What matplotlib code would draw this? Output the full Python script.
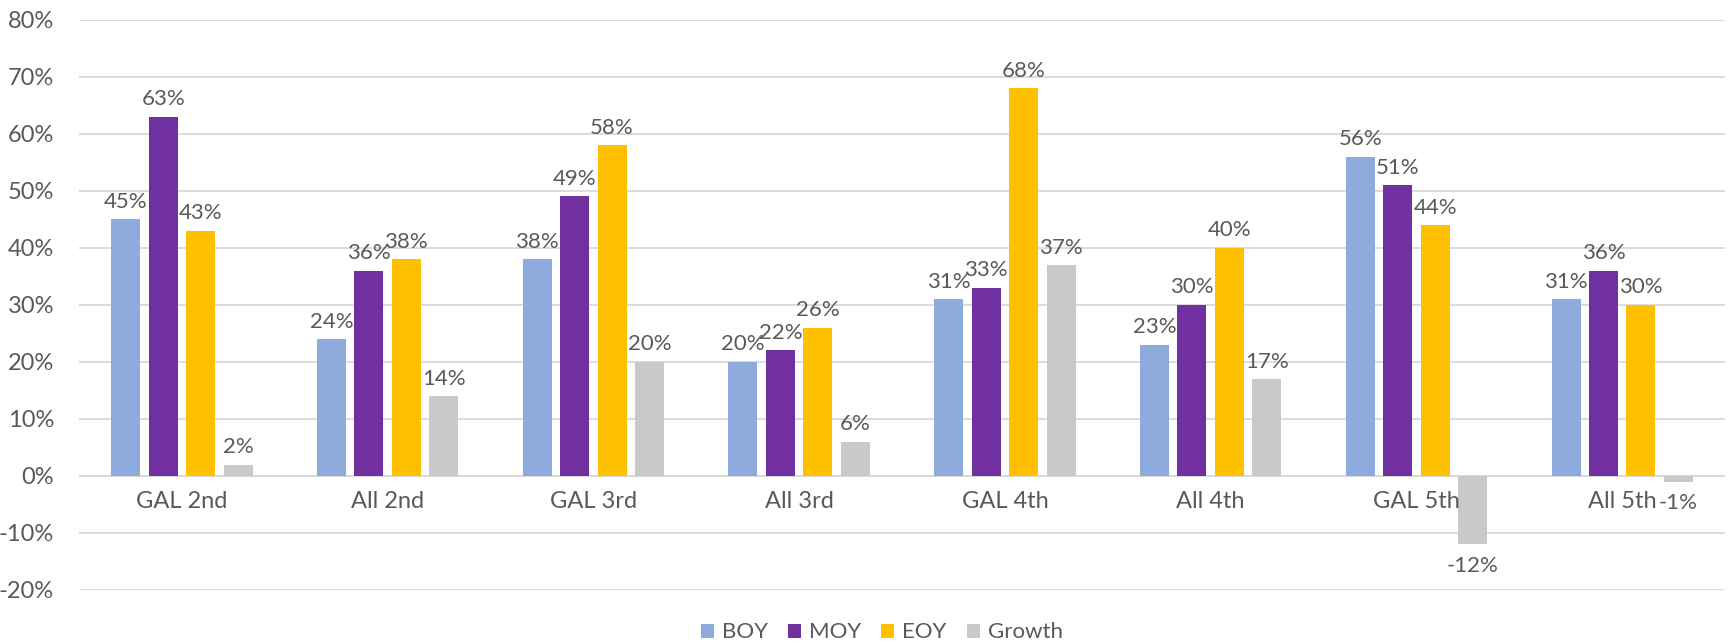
import matplotlib.pyplot as plt
import numpy as np
from matplotlib.ticker import FuncFormatter

categories = ['GAL 2nd', 'All 2nd', 'GAL 3rd', 'All 3rd', 'GAL 4th', 'All 4th', 'GAL 5th', 'All 5th']
boy = [45, 24, 38, 20, 31, 23, 56, 31]
moy = [63, 36, 49, 22, 33, 30, 51, 36]
eoy = [43, 38, 58, 26, 68, 40, 44, 30]
growth = [2, 14, 20, 6, 37, 17, -12, -1]

series = [('BOY', boy, '#8FAADC'), ('MOY', moy, '#7030A0'),
          ('EOY', eoy, '#FFC000'), ('Growth', growth, '#C9C9C9')]

txt = '#595959'
plt.rcParams['font.family'] = ['Lato', 'DejaVu Sans']

fig = plt.figure(figsize=(17.32, 6.44), dpi=100)
ax = fig.add_axes([0.0456, 0.0839, 0.9504, 0.8855])

x = np.arange(len(categories))
step, width = 0.182, 0.141
for i, (name, vals, col) in enumerate(series):
    pos = x + (i - 1.5) * step
    ax.bar(pos, vals, width, color=col, label=name, zorder=3)
    for p, v in zip(pos, vals):
        if v >= 0:
            ax.text(p, v + 1.3, '%d%%' % v, ha='center', va='bottom', fontsize=16, color=txt)
        else:
            ax.text(p, v - 2.0, '%d%%' % v, ha='center', va='top', fontsize=16, color=txt)

for xi, c in zip(x, categories):
    ax.text(xi, -2.6, c, ha='center', va='top', fontsize=17, color=txt)

ax.set_xlim(-0.5, len(categories) - 0.5)
ax.set_ylim(-20, 80)
ax.set_yticks(range(-20, 81, 10))
ax.yaxis.set_major_formatter(FuncFormatter(lambda v, _: '%d%%' % v))
ax.tick_params(axis='y', length=0, labelsize=17, labelcolor=txt, pad=18)
ax.set_xticks([])
ax.grid(axis='y', color='#D9D9D9', linewidth=1.3, zorder=0)
for s in ax.spines.values():
    s.set_visible(False)
ax.axhline(0, color='#D9D9D9', linewidth=1.3, zorder=2)

fig.legend(loc='center', bbox_to_anchor=(0.509, 0.018), ncol=4, frameon=False,
           fontsize=16, labelcolor=txt, handlelength=0.6, handleheight=0.6,
           handletextpad=0.35, columnspacing=0.9)

fig.savefig('out.png', dpi=100)
